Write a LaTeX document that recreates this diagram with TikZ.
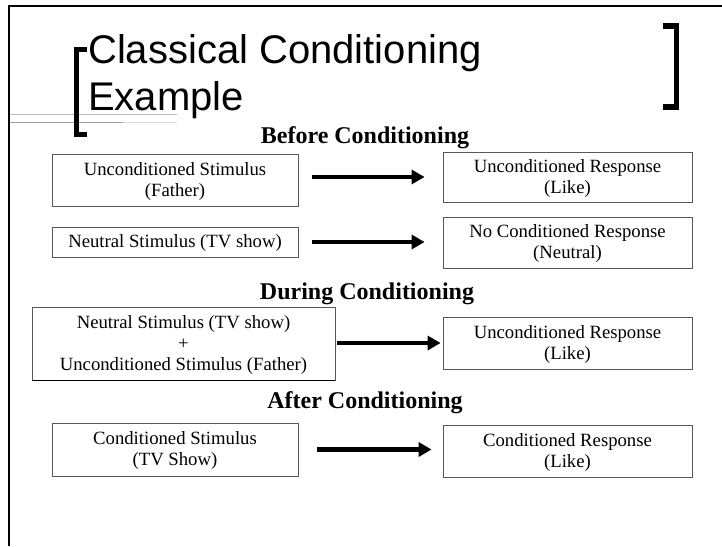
\documentclass[tikz,border=0pt]{standalone}
\usepackage{fontspec}
\setmainfont{Liberation Serif}
\newfontfamily\titlefont{Liberation Sans}
\usetikzlibrary{arrows.meta}
\tikzset{
  box/.style={draw=black!65, line width=0.8pt, align=center, inner sep=0pt,
    text depth=1pt, font=\fontsize{18.7}{21}\selectfont},
  heading/.style={anchor=base, inner sep=0pt, font=\fontsize{24}{28}\selectfont\bfseries},
  titletext/.style={anchor=base west, inner sep=0pt, font=\titlefont\fontsize{40}{47}\selectfont},
  bigarrow/.style={line width=4.5pt, -{Triangle[length=13pt,width=14pt]}},
  bracket/.style={line width=5.5pt, line cap=butt, line join=miter},
}
\begin{document}
\begin{tikzpicture}[x=1pt,y=-1pt]
\useasboundingbox (0,0) rectangle (722,546);
% frame
\draw[line width=2pt] (9,546) -- (9,6) -- (722,6);
% decorative lines
\draw[gray!55, line width=1pt] (10,114) -- (177,114);
\draw[gray!75, line width=1pt] (10,122) -- (123,122);
\draw[gray!30, line width=1pt] (123,122) -- (177,122);
% brackets
\draw[bracket] (87,49.5) -- (76.5,49.5) -- (76.5,134.5) -- (87,134.5);
\draw[bracket] (663,26) -- (676.5,26) -- (676.5,107) -- (663,107);
% title
\node[titletext] (t1) at (88,63) {Classical Conditioning};
\node[titletext] (t2) at (88,110) {Example};
% headings
\node[heading] (h1) at (365,143) {Before Conditioning};
\node[heading] (h2) at (367,299) {During Conditioning};
\node[heading] (h3) at (365,408) {After Conditioning};
% boxes
\node[box, minimum width=246pt, minimum height=52pt] (b1) at (175,180) {Unconditioned Stimulus\\(Father)};
\node[box, minimum width=246pt, minimum height=30pt] (b2) at (175,242) {Neutral Stimulus (TV show)};
\node[box, minimum width=249pt, minimum height=50pt] (b3) at (567.5,177) {Unconditioned Response\\(Like)};
\node[box, minimum width=249pt, minimum height=51pt] (b4) at (567.5,242.5) {No Conditioned Response\\(Neutral)};
\node[box, minimum width=303pt, minimum height=73pt] (b5) at (183.5,343.5) {Neutral Stimulus (TV show)\\+\\Unconditioned Stimulus (Father)};
\draw[black, line width=1.3pt] (b5.south west) -- (b5.south east);
\node[box, minimum width=249pt, minimum height=52pt] (b6) at (567.5,343) {Unconditioned Response\\(Like)};
\node[box, minimum width=246pt, minimum height=53pt] (b7) at (175,449.5) {Conditioned Stimulus\\(TV Show)};
\node[box, minimum width=249pt, minimum height=52pt] (b8) at (567.5,451) {Conditioned Response\\(Like)};
% arrows
\draw[bigarrow] ([xshift=14pt]b1.east |- b3.west) -- ([xshift=-18pt]b3.west);
\draw[bigarrow] ([xshift=14pt]b2.east) -- ([xshift=-18pt]b4.west |- b2.east);
\draw[bigarrow] ([xshift=2pt]b5.east |- b6.west) -- ([xshift=-2pt]b6.west);
\draw[bigarrow] ([xshift=19pt]b7.east) -- ([xshift=-11pt]b8.west |- b7.east);
\end{tikzpicture}
\end{document}
